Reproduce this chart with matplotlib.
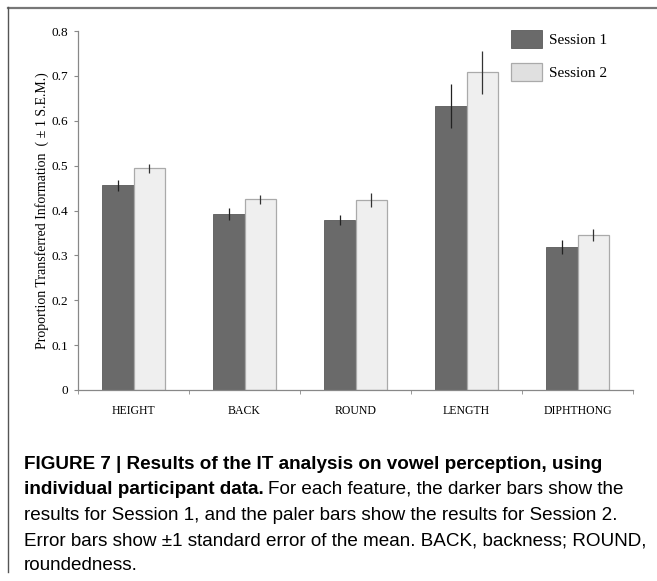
import matplotlib.pyplot as plt
import numpy as np
from matplotlib.patches import Patch
from matplotlib.lines import Line2D

features = ['HEIGHT', 'BACK', 'ROUND', 'LENGTH', 'DIPHTHONG']
session1 = [0.456, 0.392, 0.379, 0.632, 0.318]
session1_sem = [0.013, 0.013, 0.012, 0.049, 0.016]
session2 = [0.494, 0.425, 0.424, 0.708, 0.346]
session2_sem = [0.010, 0.010, 0.016, 0.048, 0.013]
yticks = [0, 0.1, 0.2, 0.3, 0.4, 0.5, 0.6, 0.7, 0.8]

W, H = 657, 581
fig = plt.figure(figsize=(W / 100, H / 100), dpi=100)
ax = fig.add_axes([78 / W, 1 - 390 / H, 555 / W, 359 / H])

x = np.arange(len(features))
bw = 0.28
dark = '#6a6a6a'
pale = '#efefef'
ax.bar(x - bw / 2, session1, bw, color=dark, edgecolor='#5a5a5a', linewidth=0.6)
ax.bar(x + bw / 2, session2, bw, color=pale, edgecolor='#aaaaaa', linewidth=0.9)
ax.errorbar(x - bw / 2, session1, yerr=session1_sem, fmt='none', ecolor='#222222', elinewidth=0.9, capsize=0)
ax.errorbar(x + bw / 2, session2, yerr=session2_sem, fmt='none', ecolor='#333333', elinewidth=0.9, capsize=0)

ax.set_xlim(-0.5, len(features) - 0.5)
ax.set_ylim(0, 0.8)
ax.set_yticks(yticks)
ax.set_yticklabels(['0'] + ['%.1f' % v for v in yticks[1:]])

serif = 'Liberation Serif'
ax.set_xticks(x)
ax.set_xticklabels(features, family=serif, fontsize=8.5)
ax.set_xticks(np.arange(len(features) + 1) - 0.5, minor=True)
ax.tick_params(axis='x', which='major', length=0, pad=11)
ax.tick_params(axis='x', which='minor', length=3, direction='out', color='#888888')
ax.tick_params(axis='y', length=3, direction='out', color='#888888', labelsize=9.5, pad=4)
for lab in ax.get_yticklabels():
    lab.set_family(serif)

for s in ['top', 'right']:
    ax.spines[s].set_visible(False)
for s in ['left', 'bottom']:
    ax.spines[s].set_color('#888888')
    ax.spines[s].set_linewidth(0.9)

ax.set_ylabel('Proportion Transferred Information  ( \u00b1 1 S.E.M.)', family=serif, fontsize=10, labelpad=2)

handles = [Patch(facecolor=dark, edgecolor='#5a5a5a', linewidth=0.6),
           Patch(facecolor='#e0e0e0', edgecolor='#aaaaaa', linewidth=0.9)]
fig.legend(handles, ['Session 1', 'Session 2'], loc='upper left',
           bbox_to_anchor=(511 / W, 1 - 30 / H), frameon=False,
           prop={'family': serif, 'size': 11}, handlelength=2.05, handleheight=1.4,
           labelspacing=1.0, handletextpad=0.45, borderpad=0, borderaxespad=0)

# frame lines along the top and left edge
fig.add_artist(Line2D([8 / W, 1], [1 - 7.5 / H, 1 - 7.5 / H], transform=fig.transFigure, color='#777777', linewidth=1.6))
fig.add_artist(Line2D([8 / W, 8 / W], [1 - 7 / H, 1 - 572 / H], transform=fig.transFigure, color='#555555', linewidth=1.0))

# caption
cap = 'Liberation Sans'
fs = 13.6
x0 = 24 / W
fig.text(x0, 1 - 469 / H, 'FIGURE 7 | Results of the IT analysis on vowel perception, using',
         family=cap, fontsize=fs, fontweight='bold', va='baseline')
bold = fig.text(x0, 1 - 494 / H, 'individual participant data.', family=cap, fontsize=fs,
                fontweight='bold', va='baseline')
fig.canvas.draw()
bb = bold.get_window_extent(renderer=fig.canvas.get_renderer())
fig.text(bb.x1 / W + 4 / W, 1 - 494 / H, 'For each feature, the darker bars show the',
         family=cap, fontsize=fs, va='baseline')
rest = ['results for Session 1, and the paler bars show the results for Session 2.',
        'Error bars show \u00b11 standard error of the mean. BACK, backness; ROUND,',
        'roundedness.']
for i, line in enumerate(rest):
    fig.text(x0, 1 - (520 + 25 * i) / H, line, family=cap, fontsize=fs, va='baseline')

fig.savefig('out.png', dpi=100)
